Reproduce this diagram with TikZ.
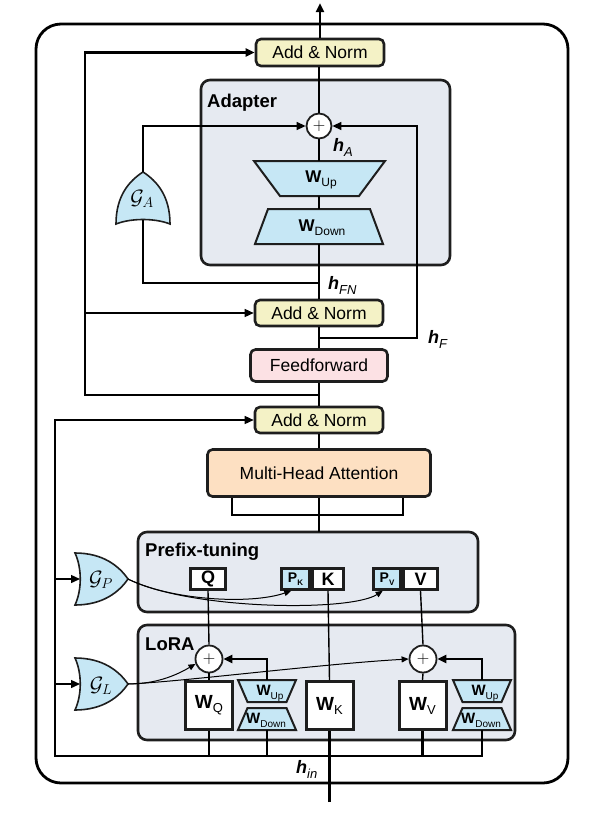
\documentclass[tikz,border=0pt]{standalone}
\usepackage{fontspec}
\setmainfont{Liberation Sans}
\usetikzlibrary{arrows.meta}
\definecolor{ancol}{HTML}{F4F2C6}
\definecolor{ffcol}{HTML}{FCE1E4}
\definecolor{mhacol}{HTML}{FDE0C2}
\definecolor{modcol}{HTML}{E6EAF1}
\definecolor{trapcol}{HTML}{C6E7F5}
\definecolor{bordcol}{HTML}{1E1E1E}
\newcommand{\hlab}[1]{{\fontsize{18}{18}\selectfont\bfseries\itshape h}\raisebox{-5.5pt}{\fontsize{13}{13}\selectfont\itshape #1}}
\newcommand{\Wlab}[3]{{\fontsize{#1}{#1}\selectfont\bfseries W}\raisebox{-0.4em}{\fontsize{#2}{#2}\selectfont #3}}
\newcommand{\Plab}[1]{{\fontsize{14}{14}\selectfont\bfseries P}\raisebox{-3pt}{\fontsize{8}{8}\selectfont #1}}
\begin{document}
\begin{tikzpicture}[x=1pt,y=-1pt,
  thickl/.style={line width=2.6pt},
  thinl/.style={line width=1.4pt},
  tip/.style={-{Triangle[length=9pt,width=8pt]}},
  smalltip/.style={-{Triangle[length=7pt,width=6pt]}},
  block/.style={draw=bordcol,line width=2.6pt,rounded corners=5pt,inner sep=0pt,font=\fontsize{17.5}{17.5}\selectfont},
  modbox/.style={draw=bordcol,fill=modcol,line width=2.6pt,rounded corners=9pt},
  modlab/.style={anchor=base west,inner sep=0pt,font=\fontsize{18.5}{18.5}\selectfont\bfseries},
  trap/.style={draw=bordcol,fill=trapcol,line width=2pt,line join=miter},
  plus/.style={circle,draw=bordcol,fill=white,line width=1.8pt,minimum size=25pt,inner sep=0pt,font=\fontsize{17}{17}\selectfont},
  pbox/.style={draw=bordcol,fill=white,line width=2.6pt,inner sep=0pt,minimum height=21pt,font=\fontsize{18}{18}\selectfont\bfseries},
  wbox/.style={draw=bordcol,fill=white,line width=3pt,inner sep=0pt,minimum width=47pt,minimum height=48pt},
  gate/.style={draw=bordcol,fill=trapcol,line width=1.6pt},
  glab/.style={inner sep=0pt,font=\fontsize{22}{22}\selectfont},
  hl/.style={anchor=base west,inner sep=0pt}]
\useasboundingbox (0,0) rectangle (603,820);
% outer frame
\draw[line width=2.8pt,rounded corners=25pt] (36,24) rectangle (568,783);
% module boxes
\draw[modbox] (201,80) rectangle (450,265);
\node[modlab] (adlab) at (207,107) {Adapter};
\draw[modbox] (138,532) rectangle (478,612);
\node[modlab] (pflab) at (145,556) {Prefix-tuning};
\draw[modbox] (138,625) rectangle (515,740);
\node[modlab] (lrlab) at (145,650) {LoRA};
% main blocks
\node[block,fill=ancol,minimum width=128pt,minimum height=27pt] (an3) at (320,52.5) {Add \& Norm};
\node[block,fill=ancol,minimum width=128pt,minimum height=26pt] (an2) at (319,313) {Add \& Norm};
\node[block,fill=ffcol,minimum width=137pt,minimum height=32pt] (ff) at (319,365.5) {Feedforward};
\node[block,fill=ancol,minimum width=128pt,minimum height=26pt] (an1) at (319,420) {Add \& Norm};
\node[block,fill=mhacol,minimum width=223pt,minimum height=47pt] (mha) at (319,473) {Multi-Head Attention};
% adapter internals
\node[plus] (pA) at (319,126) {$+$};
\draw[trap] (254,161) -- (385,161) -- (359,196) -- (280,196) -- cycle;
\draw[trap] (268,209) -- (370,209) -- (383,244) -- (255,244) -- cycle;
\node[anchor=base,inner sep=0pt] (wupA) at (321,182) {\Wlab{17}{12}{Up}};
\node[anchor=base,inner sep=0pt] (wdnA) at (322,231) {\Wlab{17}{12}{Down}};
\coordinate (wupAT) at (319,161);
\coordinate (wupAB) at (319,196);
\coordinate (wdnAT) at (319,209);
\coordinate (wdnAB) at (319,244);
% gate A
\draw[gate] (116,224) .. controls (116,196) and (129,181) .. (143,172) .. controls (157,181) and (170,196) .. (170,224) .. controls (155,218) and (131,218) .. (116,224) -- cycle;
\node[glab] (gA) at (142,199) {$\mathcal{G}_A$};
\coordinate (gAtip) at (143,172);
\coordinate (gAback) at (143,220);
% gate P
\draw[gate] (75,553) .. controls (103,553) and (119,566) .. (128,579) .. controls (119,592) and (103,605) .. (75,605) .. controls (82,590) and (82,568) .. (75,553) -- cycle;
\node[glab] (gP) at (101,580) {$\mathcal{G}_P$};
\coordinate (gPtip) at (128,579);
\coordinate (gPback) at (80,579);
% gate L
\draw[gate] (75,658) .. controls (103,658) and (119,671) .. (128,684) .. controls (119,697) and (103,710) .. (75,710) .. controls (82,695) and (82,673) .. (75,658) -- cycle;
\node[glab] (gL) at (101,686) {$\mathcal{G}_L$};
\coordinate (gLtip) at (128,684);
\coordinate (gLback) at (80,684);
% prefix boxes
\node[pbox,minimum width=35pt] (q) at (208,579) {Q};
\node[pbox,fill=trapcol,minimum width=28pt] (pk) at (295.5,579) {\Plab{K}};
\node[pbox,minimum width=31pt] (k) at (328,579) {K};
\node[pbox,fill=trapcol,minimum width=27pt] (pv) at (387,579) {\Plab{V}};
\node[pbox,minimum width=34pt] (v) at (420.5,579) {V};
% LoRA internals
\node[plus,minimum size=27pt] (l1) at (209,659) {$+$};
\node[plus,minimum size=27pt] (l2) at (423,659) {$+$};
\node[wbox] (wq) at (209,705.5) {\Wlab{19}{13}{Q}};
\node[wbox] (wk) at (329.5,705.5) {\Wlab{19}{13}{K}};
\node[wbox] (wv) at (422.5,705.5) {\Wlab{19}{13}{V}};
\draw[trap] (238,680) -- (296,680) -- (286.5,702) -- (247.5,702) -- cycle;
\draw[trap] (247.5,708) -- (286.5,708) -- (296,730) -- (238,730) -- cycle;
\draw[trap] (453,680) -- (511,680) -- (501.5,702) -- (462.5,702) -- cycle;
\draw[trap] (462.5,708) -- (501.5,708) -- (511,730) -- (453,730) -- cycle;
\node[anchor=base,inner sep=0pt] (wu1) at (270,695) {\Wlab{15}{10}{Up}};
\node[anchor=base,inner sep=0pt] (wd1) at (266,723) {\Wlab{15}{10}{Down}};
\node[anchor=base,inner sep=0pt] (wu2) at (485,695) {\Wlab{15}{10}{Up}};
\node[anchor=base,inner sep=0pt] (wd2) at (481,723) {\Wlab{15}{10}{Down}};
\coordinate (u1T) at (267,680);
\coordinate (d1B) at (267,730);
\coordinate (u2T) at (482,680);
\coordinate (d2B) at (482,730);
% labels h
\node[hl] (hA) at (333,151) {\hlab{A}};
\node[hl] (hFN) at (328,289) {\hlab{FN}};
\node[hl] (hF) at (428,343) {\hlab{F}};
\node[hl] (hIn) at (296,773) {\hlab{in}};
% coordinates for junctions
\coordinate (top) at (320,3);
\coordinate (jFN) at (319,283);
\coordinate (jF) at (319,338);
\coordinate (jFr) at (417,338);
\coordinate (jR) at (319,395);
\coordinate (jRl) at (85,395);
\coordinate (jRm) at (85,313);
\coordinate (pfT) at (319,532);
\coordinate (brL) at (232,498);
\coordinate (brLb) at (232,515);
\coordinate (brRb) at (403,515);
\coordinate (brR) at (403,498);
\coordinate (bL) at (55,756);
\coordinate (bQ) at (209,756);
\coordinate (bD1) at (267,756);
\coordinate (bV) at (422.5,756);
\coordinate (bD2) at (482,756);
\coordinate (inP) at (55,579);
\coordinate (inL) at (55,684);
\coordinate (hin) at (329.5,802);
% upper connectors
\draw[thickl,tip] (an3.north) -- (top);
\draw[thinl] (pA.north) -- (pA.north |- an3.south);
\draw[thinl] (wupAT) -- (pA.south);
\draw[thinl] (wdnAT) -- (wupAB);
\draw[thickl] (an2.north) -- (wdnAB);
\draw[thickl] (jFN) -| (gAback);
\draw[thinl,tip] (gAtip) |- (pA.west);
\draw[thinl,tip] (jF) -- (jFr) |- (pA.east);
\draw[thinl] (ff.north) -- (an2.south);
\draw[thickl,tip] (jR) -- (jRl) |- (an3.west);
\draw[thinl,tip] (jRm) -- (an2.west);
\draw[thinl] (an1.north) -- (ff.south);
\draw[thinl] (mha.north) -- (an1.south);
\draw[thinl] (brL) -- (brLb) -- (brRb) -- (brR);
\draw[thickl] (pfT) -- (mha.south);
% left feed and bottom bus
\draw[thinl,tip] (bQ) -- (bL) |- (an1.west);
\draw[thinl,tip] (inP) -- (gPback);
\draw[thinl,tip] (inL) -- (gLback);
\draw[thickl] (bQ) -- (bV);
\draw[thinl] (bV) -- (bD2) -- (d2B);
\draw[thickl] (wq.south) -- (bQ);
\draw[thickl] (d1B) -- (bD1);
\draw[thickl] (wv.south) -- (bV);
\draw[thickl] (hin) -- (wk.south);
% prefix/LoRA verticals
\draw[thinl] (q.south) -- (l1.north);
\draw[thinl] (k.south) -- (wk.north);
\draw[thinl] (v.south) -- (l2.north);
\draw[thinl] (wq.north) -- (l1.south);
\draw[thinl] (wv.north) -- (l2.south);
\draw[thickl,tip] (u1T) |- (l1.east);
\draw[thickl,tip] (u2T) |- (l2.east);
% gate curves
\draw[line width=1pt,smalltip] (gPtip) .. controls (170,600) and (250,605) .. (pk.250);
\draw[line width=1pt,smalltip] (gPtip) .. controls (190,610) and (350,612) .. (pv.250);
\draw[line width=1pt,smalltip] (gLtip) .. controls (155,684) and (175,676) .. (l1.200);
\draw[line width=1pt,smalltip] (gLtip) .. controls (180,682) and (320,664) .. (l2.west);
\end{tikzpicture}
\end{document}
